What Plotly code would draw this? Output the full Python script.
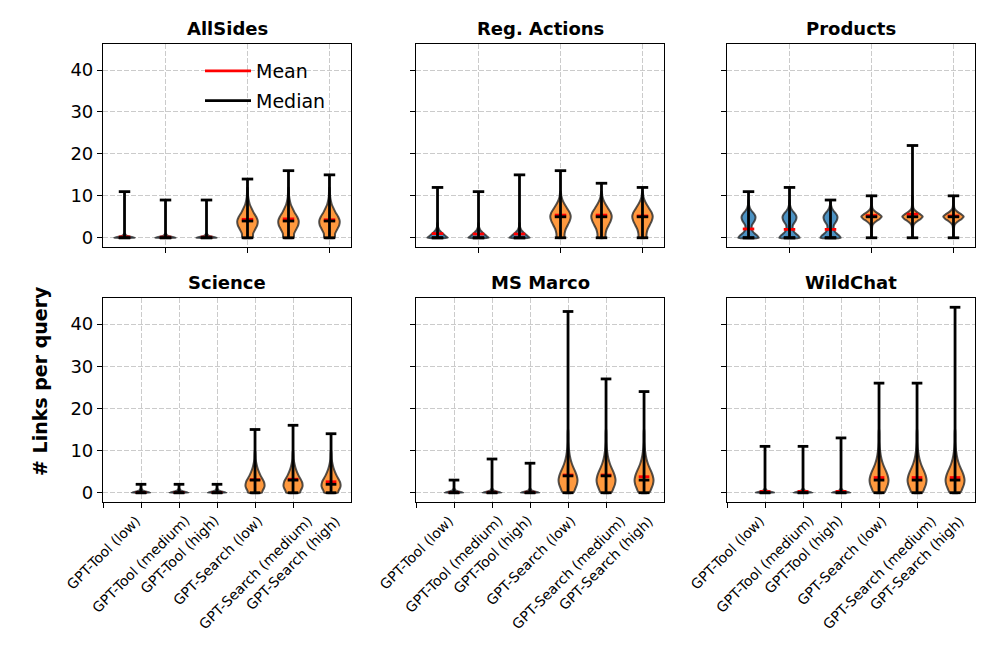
import plotly.graph_objects as go

# ---------------- data ----------------
PANELS = ["AllSides", "Reg. Actions", "Products", "Science", "MS Marco", "WildChat"]
MODELS = ["GPT-Tool (low)", "GPT-Tool (medium)", "GPT-Tool (high)",
          "GPT-Search (low)", "GPT-Search (medium)", "GPT-Search (high)"]
POSITIONS = [1, 2, 3, 4, 5, 6]          # where the violins sit
TICK_POSITIONS = [0, 1, 2, 3, 4, 5]     # where the (shifted) tick labels sit
Y_TICKS = [0, 10, 20, 30, 40]

LINK_MIN = [
    [0, 0, 0, 0, 0, 0],
    [0, 0, 0, 0, 0, 0],
    [0, 0, 0, 0, 0, 0],
    [0, 0, 0, 0, 0, 0],
    [0, 0, 0, 0, 0, 0],
    [0, 0, 0, 0, 0, 0],
]
LINK_MAX = [
    [11, 9, 9, 14, 16, 15],
    [12, 11, 15, 16, 13, 12],
    [11, 12, 9, 10, 22, 10],
    [2, 2, 2, 15, 16, 14],
    [3, 8, 7, 43, 27, 24],
    [11, 11, 13, 26, 26, 44],
]
LINK_MEAN = [
    [0.2, 0.15, 0.15, 4.4, 4.5, 4.3],
    [1.0, 0.9, 0.9, 5.4, 5.4, 5.2],
    [2.1, 2.0, 2.0, 5.3, 5.6, 5.2],
    [0.05, 0.05, 0.05, 3.1, 3.2, 2.6],
    [0.05, 0.1, 0.1, 4.2, 4.2, 3.8],
    [0.3, 0.3, 0.3, 3.6, 3.6, 3.6],
]
LINK_MEDIAN = [
    [0, 0, 0, 4, 4, 4],
    [0, 0, 0, 5, 5, 5],
    [0, 0, 0, 5, 5, 5],
    [0, 0, 0, 3, 3, 2],
    [0, 0, 0, 4, 4, 3],
    [0, 0, 0, 3, 3, 3],
]

# density outlines: (levels, relative half-widths)
PROFILE_ZERO_Y = [0, 0.3, 0.6, 1.0]
PROFILE_ZERO_W = [1.0, 0.5, 0.15, 0.03]
PROFILE_REG_TOOL_Y = [0, 0.5, 1, 1.5, 2, 2.5, 3.5]
PROFILE_REG_TOOL_W = [1.0, 0.75, 0.5, 0.3, 0.15, 0.06, 0.02]
PROFILE_PROD_TOOL_Y = [0, 0.5, 1, 1.5, 2, 2.5, 3, 3.5, 4, 4.5, 5, 5.5, 6, 6.5, 7, 7.5, 8, 9]
PROFILE_PROD_TOOL_W = [1.0, 0.85, 0.6, 0.42, 0.32, 0.3, 0.33, 0.45, 0.58, 0.66, 0.68, 0.6,
                       0.45, 0.28, 0.15, 0.08, 0.04, 0.01]
PROFILE_ALL_SEARCH_Y = [0, 1, 2, 3, 4, 5, 6, 7, 8, 9, 10, 12]
PROFILE_ALL_SEARCH_W = [0.5, 0.55, 0.75, 0.95, 1.0, 0.85, 0.6, 0.4, 0.22, 0.12, 0.06, 0.02]
PROFILE_REG_SEARCH_Y = [0, 1, 2, 3, 4, 5, 6, 7, 8, 9, 10, 11]
PROFILE_REG_SEARCH_W = [0.35, 0.4, 0.5, 0.7, 0.9, 1.0, 0.9, 0.65, 0.4, 0.2, 0.08, 0.03]
PROFILE_PROD_SEARCH_Y = [0, 2, 3, 3.5, 4, 4.5, 5, 5.5, 6, 6.5, 7, 8, 10]
PROFILE_PROD_SEARCH_W = [0.02, 0.04, 0.1, 0.25, 0.5, 0.8, 1.0, 0.8, 0.5, 0.25, 0.1, 0.04, 0.02]
PROFILE_SCI_SEARCH_Y = [0, 0.5, 1, 1.5, 2, 2.5, 3, 4, 5, 6, 7, 8, 10]
PROFILE_SCI_SEARCH_W = [0.72, 0.8, 0.92, 1.0, 1.0, 0.95, 0.85, 0.6, 0.4, 0.25, 0.14, 0.07, 0.02]
PROFILE_WEB_SEARCH_Y = [0, 1, 2, 3, 4, 5, 6, 7, 8, 10, 12, 15]
PROFILE_WEB_SEARCH_W = [0.55, 0.77, 0.94, 1.0, 0.92, 0.76, 0.56, 0.39, 0.26, 0.11, 0.045, 0.02]

PROFILES = {
    "zero": (PROFILE_ZERO_Y, PROFILE_ZERO_W),
    "reg_tool": (PROFILE_REG_TOOL_Y, PROFILE_REG_TOOL_W),
    "prod_tool": (PROFILE_PROD_TOOL_Y, PROFILE_PROD_TOOL_W),
    "all_search": (PROFILE_ALL_SEARCH_Y, PROFILE_ALL_SEARCH_W),
    "reg_search": (PROFILE_REG_SEARCH_Y, PROFILE_REG_SEARCH_W),
    "prod_search": (PROFILE_PROD_SEARCH_Y, PROFILE_PROD_SEARCH_W),
    "sci_search": (PROFILE_SCI_SEARCH_Y, PROFILE_SCI_SEARCH_W),
    "web_search": (PROFILE_WEB_SEARCH_Y, PROFILE_WEB_SEARCH_W),
}
PANEL_PROFILES = [
    ["zero"] * 3 + ["all_search"] * 3,
    ["reg_tool"] * 3 + ["reg_search"] * 3,
    ["prod_tool"] * 3 + ["prod_search"] * 3,
    ["zero"] * 3 + ["sci_search"] * 3,
    ["zero"] * 3 + ["web_search"] * 3,
    ["zero"] * 3 + ["web_search"] * 3,
]

# ---------------- styling ----------------
OFF = 8                       # page margin of the browser body
W, H = 997 - 2 * OFF, 664 - 2 * OFF
FONT = "DejaVu Sans"
TOOL_FILL = "rgba(31,119,180,0.8)"
SEARCH_FILL = "rgba(255,127,14,0.8)"
EDGE = "rgba(40,40,40,0.8)"
HALF_WIDTH = 0.25
CAP_HALF = 0.14
LW = 2.8

COL_PX = [(103, 351), (416, 664), (727, 975)]
ROW_PX = [(44, 247), (298, 502)]


def px(xp):
    return (xp - OFF) / W


def py(yp):
    return 1 - (yp - OFF) / H


fig = go.Figure()

for i, panel in enumerate(PANELS):
    r, c = divmod(i, 3)
    xa = "x" if i == 0 else f"x{i + 1}"
    ya = "y" if i == 0 else f"y{i + 1}"

    # violin bodies
    for j, pos in enumerate(POSITIONS):
        ys, ws = PROFILES[PANEL_PROFILES[i][j]]
        xs_r = [pos + w * HALF_WIDTH for w in ws]
        xs_l = [pos - w * HALF_WIDTH for w in ws][::-1]
        xs = xs_r + xs_l + [xs_r[0]]
        yy = list(ys) + list(ys)[::-1] + [ys[0]]
        fig.add_trace(go.Scatter(
            x=xs, y=yy, xaxis=xa, yaxis=ya, mode="lines", fill="toself",
            fillcolor=TOOL_FILL if j < 3 else SEARCH_FILL,
            line=dict(color=EDGE, width=2, shape="spline", smoothing=0.6),
            showlegend=False, hoverinfo="skip"))

    def segs(vals):
        xs, ys = [], []
        for pos, v in zip(POSITIONS, vals):
            xs += [pos - CAP_HALF, pos + CAP_HALF, None]
            ys += [v, v, None]
        return xs, ys

    mx, my = segs(LINK_MEAN[i])
    fig.add_trace(go.Scatter(x=mx, y=my, xaxis=xa, yaxis=ya, mode="lines",
                             line=dict(color="red", width=LW), name="Mean",
                             showlegend=(i == 0), legendgroup="mean"))
    ax_, ay_ = segs(LINK_MAX[i])
    bx_, by_ = segs(LINK_MIN[i])
    vx, vy = [], []
    for pos, lo, hi in zip(POSITIONS, LINK_MIN[i], LINK_MAX[i]):
        vx += [pos, pos, None]
        vy += [lo, hi, None]
    fig.add_trace(go.Scatter(x=ax_ + bx_ + vx, y=ay_ + by_ + vy, xaxis=xa, yaxis=ya,
                             mode="lines", line=dict(color="black", width=LW),
                             showlegend=False, hoverinfo="skip"))
    dx, dy = segs(LINK_MEDIAN[i])
    fig.add_trace(go.Scatter(x=dx, y=dy, xaxis=xa, yaxis=ya, mode="lines",
                             line=dict(color="black", width=LW), name="Median",
                             showlegend=(i == 0), legendgroup="median"))

    x0, x1 = COL_PX[c]
    y0, y1 = ROW_PX[r]
    common = dict(showline=True, linecolor="black", linewidth=1.2, mirror=True,
                  ticks="outside", ticklen=5, tickwidth=1, tickcolor="black",
                  showgrid=True, gridcolor="rgba(185,185,185,0.75)", gridwidth=0.8,
                  griddash="5px,2px", zeroline=False)
    if r == 0:
        xr = [0.475, 6.525]
        xt = [2, 4, 6]
    else:
        xr = [0, 6.525]
        xt = TICK_POSITIONS
    fig.layout[("xaxis" if i == 0 else f"xaxis{i + 1}")] = dict(
        domain=[px(x0), px(x1)], range=xr, tickvals=xt, showticklabels=False,
        anchor=ya, **common)
    fig.layout[("yaxis" if i == 0 else f"yaxis{i + 1}")] = dict(
        domain=[py(y1), py(y0)], range=[-2.2, 46.2], tickvals=Y_TICKS,
        showticklabels=(c == 0), tickfont=dict(size=18, color="black", family=FONT),
        anchor=xa, **common)

    # panel title
    fig.add_annotation(x=px((x0 + x1) / 2), y=py(y0 - 3), xref="paper", yref="paper",
                       text=f"<b>{panel}</b>", showarrow=False, xanchor="center",
                       yanchor="bottom", font=dict(size=18, color="black", family=FONT))

    # rotated, centred category labels on the bottom row
    if r == 1:
        for t, lab in zip(TICK_POSITIONS, MODELS):
            fig.add_annotation(x=t, xref=xa, y=py(y1 + 8), yref="paper",
                               text=lab, textangle=-45, showarrow=False,
                               xanchor="center", yanchor="top",
                               font=dict(size=14, color="black", family=FONT))

fig.add_annotation(x=px(40), y=py(381), xref="paper", yref="paper",
                   text="<b># Links per query</b>", textangle=-90, showarrow=False,
                   xanchor="center", yanchor="middle",
                   font=dict(size=19, color="black", family=FONT))

fig.update_layout(
    width=W, height=H, margin=dict(l=0, r=0, t=0, b=0),
    paper_bgcolor="white", plot_bgcolor="white",
    font=dict(family=FONT, color="black"),
    legend=dict(x=px(200), y=py(52), xanchor="left", yanchor="top",
                bgcolor="rgba(0,0,0,0)", font=dict(size=19, family=FONT),
                itemwidth=46, tracegroupgap=2),
)

fig.write_html("out.html")
